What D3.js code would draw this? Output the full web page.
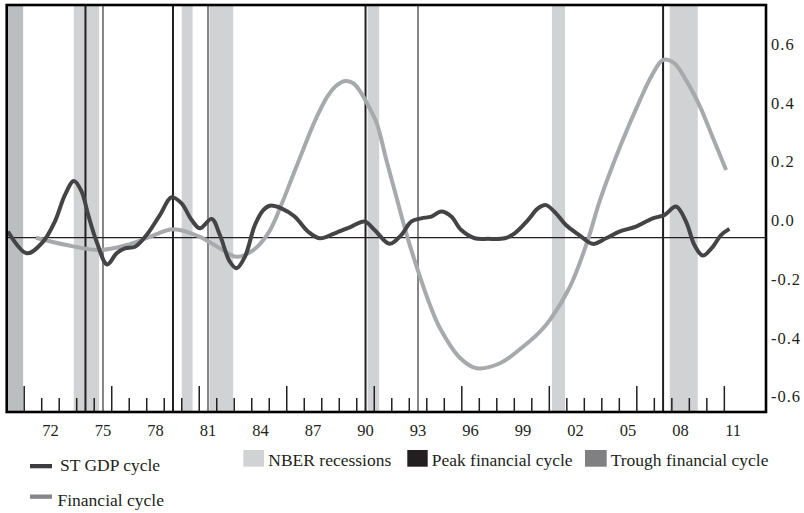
<!DOCTYPE html>
<html>
<head>
<meta charset="utf-8">
<script src="https://cdn.jsdelivr.net/npm/d3@7"></script>
<style>
  html, body { margin: 0; padding: 0; background: #ffffff; }
  svg { display: block; }
  text { font-family: "Liberation Serif", "DejaVu Serif", serif; fill: #231f20; }
</style>
</head>
<body>
<svg id="chart" width="804" height="513"></svg>
<script>
// ---- data ----
const gdpDates = [1970.07,1971.14,1972.07,1972.75,1973.33,1973.84,1974.28,1974.66,1975.14,1975.74,1976.28,1976.75,1977.33,1977.99,1978.75,1979.42,1979.99,1980.57,1981.04,1981.71,1982.18,1982.75,1983.14,1983.61,1984.18,1984.66,1985.04,1985.69,1986.45,1987.21,1987.88,1988.74,1989.69,1990.45,1991.02,1991.88,1992.54,1993.11,1993.69,1994.26,1994.83,1995.40,1995.97,1996.74,1997.50,1998.45,1999.02,1999.78,2000.35,2000.81,2001.38,2001.95,2002.71,2003.48,2004.24,2005.00,2005.95,2006.91,2007.57,2008.24,2008.81,2009.29,2009.77,2010.34,2010.81,2011.29];
const gdpValues = [-0.037,-0.111,-0.072,-0.003,0.088,0.135,0.099,0.019,-0.072,-0.149,-0.111,-0.094,-0.089,-0.049,0.019,0.080,0.059,0.002,-0.026,0.006,-0.049,-0.140,-0.162,-0.123,-0.015,0.036,0.051,0.042,0.014,-0.037,-0.060,-0.043,-0.020,-0.003,-0.032,-0.079,-0.049,-0.003,0.008,0.014,0.031,0.014,-0.032,-0.060,-0.062,-0.060,-0.043,0.002,0.042,0.053,0.025,-0.015,-0.049,-0.079,-0.060,-0.037,-0.020,0.008,0.019,0.048,-0.003,-0.083,-0.119,-0.089,-0.049,-0.028];

const finDates = [1971.67,1973.42,1975.33,1976.85,1978.18,1979.51,1981.04,1982.18,1983.14,1984.09,1984.98,1985.73,1986.30,1986.93,1987.61,1988.30,1988.81,1989.33,1989.78,1990.18,1990.64,1991.14,1991.69,1992.28,1992.87,1993.50,1994.18,1994.75,1995.90,1996.85,1998.18,1999.51,2000.47,2001.04,2002.18,2003.14,2003.90,2005.04,2006.18,2006.87,2007.50,2008.13,2008.81,2009.61,2010.35,2011.10];
const finValues = [-0.058,-0.083,-0.100,-0.083,-0.055,-0.029,-0.055,-0.094,-0.123,-0.100,-0.039,0.060,0.146,0.241,0.340,0.421,0.459,0.476,0.469,0.442,0.394,0.332,0.207,0.077,-0.052,-0.171,-0.287,-0.366,-0.468,-0.503,-0.486,-0.429,-0.378,-0.338,-0.225,-0.077,0.071,0.252,0.411,0.496,0.548,0.537,0.479,0.389,0.282,0.173];

const nberStart = [1969.92,1973.83,1980.00,1981.58,1990.62,2001.15,2007.88];
const nberEnd   = [1970.94,1975.28,1980.62,1982.94,1991.28,2001.90,2009.48];
const peakDates   = [1974.5,1979.5,1990.5,2007.5];
const troughDates = [1975.5,1981.5,1993.5];

const yTickValues = [-0.6,-0.4,-0.2,0.0,0.2,0.4,0.6];
const yTickLabels = ["-0.6","-0.4","-0.2","0.0","0.2","0.4","0.6"];
const xLabelYears = [1972,1975,1978,1981,1984,1987,1990,1993,1996,1999,2002,2005,2008,2011];
const xLabelTexts = ["72","75","78","81","84","87","90","93","96","99","02","05","08","11"];
const firstTickYear = 1971, lastTickYear = 2011, majorEvery = 5;
const referenceLineValue = -0.058;

const legendLabels = ["ST GDP cycle","Financial cycle","NBER recessions","Peak financial cycle","Trough financial cycle"];

// ---- layout ----
const svg = d3.select("#chart");
const L = 6.7, R = 766, T = 5, B = 412;
const x = d3.scaleLinear().domain([1970, 2013.38]).range([L, R]);
const y = d3.scaleLinear().domain([-0.652, 0.735]).range([B, T]);

const C = {
  gdp: "#444446", fin: "#a7a9ac", nber: "#d1d2d4", nberEdge: "#bcbdc0",
  peak: "#231f20", trough: "#858589", ink: "#231f20"
};

svg.append("defs").append("clipPath").attr("id","plot")
  .append("rect").attr("x",L).attr("y",T).attr("width",R-L).attr("height",B-T);

const plot = svg.append("g").attr("clip-path","url(#plot)");

// NBER recession bands
const bands = nberStart.map((s,i)=>({s, e:nberEnd[i]}));
plot.selectAll("rect.nber").data(bands).join("rect")
  .attr("class","nber")
  .attr("x", d=>x(d.s)).attr("width", d=>x(d.e)-x(d.s))
  .attr("y", T).attr("height", B-T)
  .attr("fill", d => d.s < x.domain()[0] ? C.nberEdge : C.nber);

// trough and peak lines
plot.selectAll("line.trough").data(troughDates).join("line")
  .attr("x1", d=>x(d)).attr("x2", d=>x(d)).attr("y1", T).attr("y2", B)
  .attr("stroke", C.trough).attr("stroke-width", 2);
plot.selectAll("line.peak").data(peakDates).join("line")
  .attr("x1", d=>x(d)).attr("x2", d=>x(d)).attr("y1", T).attr("y2", B)
  .attr("stroke", C.peak).attr("stroke-width", 2);

// reference line
plot.append("line").attr("x1", L).attr("x2", R)
  .attr("y1", y(referenceLineValue)).attr("y2", y(referenceLineValue))
  .attr("stroke", C.ink).attr("stroke-width", 1.2);

// lines
const lineGen = d3.line().x(d=>x(d[0])).y(d=>y(d[1])).curve(d3.curveCatmullRom.alpha(0.5));
plot.append("path").datum(finDates.map((d,i)=>[d, finValues[i]]))
  .attr("d", lineGen).attr("fill","none").attr("stroke", C.fin)
  .attr("stroke-width", 4).attr("stroke-linecap","butt").attr("stroke-linejoin","round");
plot.append("path").datum(gdpDates.map((d,i)=>[d, gdpValues[i]]))
  .attr("d", lineGen).attr("fill","none").attr("stroke", C.gdp)
  .attr("stroke-width", 4).attr("stroke-linecap","butt").attr("stroke-linejoin","round");

// x ticks (inside, from the bottom)
const tickYears = d3.range(firstTickYear, lastTickYear + 1);
svg.append("g").selectAll("line").data(tickYears).join("line")
  .attr("x1", d=>x(d)).attr("x2", d=>x(d))
  .attr("y1", B).attr("y2", d => (d - firstTickYear) % majorEvery === 0 ? B - 26 : B - 14)
  .attr("stroke", C.ink).attr("stroke-width", 1.5);

// x labels (centred in the year)
svg.append("g").selectAll("text").data(xLabelYears).join("text")
  .attr("x", d=>x(d + 0.5)).attr("y", 435.5)
  .attr("text-anchor","middle").attr("font-size", 16.5)
  .text((d,i)=>xLabelTexts[i]);

// frame
svg.append("rect").attr("x",L).attr("y",T).attr("width",R-L).attr("height",B-T)
  .attr("fill","none").attr("stroke","#000").attr("stroke-width",2.6);

// y labels on the right
svg.append("g").selectAll("text").data(yTickValues).join("text")
  .attr("x", 771).attr("y", d=>y(d)).attr("dominant-baseline","central")
  .attr("font-size", 16.5).attr("letter-spacing", 1)
  .text((d,i)=>yTickLabels[i]);

// legend
const lg = svg.append("g").attr("font-size", 17.5);
lg.append("rect").attr("x",30).attr("y",464).attr("width",22).attr("height",4.3).attr("fill","#3d3d3f");
lg.append("text").attr("x",60).attr("y",471).text(legendLabels[0]);
lg.append("rect").attr("x",30).attr("y",494.5).attr("width",22).attr("height",4.3).attr("fill","#86868a");
lg.append("text").attr("x",57.5).attr("y",506).text(legendLabels[1]);
lg.append("rect").attr("x",243.3).attr("y",450).attr("width",20.7).attr("height",16.7).attr("fill",C.nber);
lg.append("text").attr("x",268.3).attr("y",465.7).text(legendLabels[2]);
lg.append("rect").attr("x",407.3).attr("y",450).attr("width",20.4).attr("height",16.7).attr("fill",C.peak);
lg.append("text").attr("x",431.7).attr("y",465.7).text(legendLabels[3]);
lg.append("rect").attr("x",585).attr("y",450).attr("width",21.7).attr("height",16.7).attr("fill","#808083");
lg.append("text").attr("x",610.7).attr("y",465.7).text(legendLabels[4]);
</script>
</body>
</html>
